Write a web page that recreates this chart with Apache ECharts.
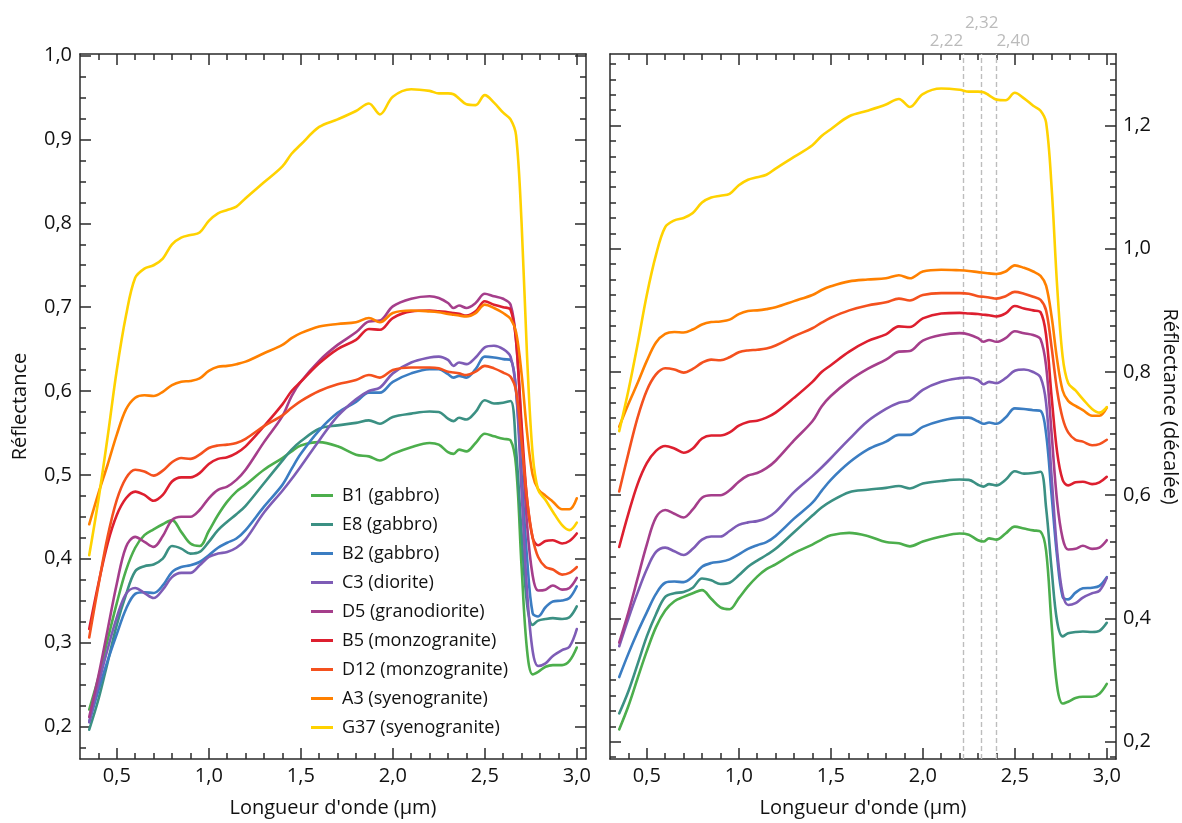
<!DOCTYPE html>
<html><head><meta charset="utf-8">
<script src="https://cdn.jsdelivr.net/npm/echarts@6/dist/echarts.min.js"></script>
<style>html,body{margin:0;padding:0;background:#fff}#c{width:1182px;height:823px}</style>
</head><body><div id="c"></div>
<script>
// ---------- data ----------
const wavelengths = [0.35,0.40,0.45,0.50,0.55,0.60,0.65,0.70,0.75,0.80,0.85,0.90,0.95,1.00,1.05,1.10,1.15,1.20,
  1.30,1.40,1.45,1.50,1.60,1.70,1.80,1.87,1.93,2.00,2.10,
  2.20,2.25,2.30,2.33,2.36,2.40,2.45,2.50,2.55,2.60,2.64,2.67,2.70,2.73,2.76,2.79,2.83,2.87,2.92,2.96,3.00];

const b1  = [0.220,0.258,0.303,0.347,0.386,0.413,0.428,0.435,0.441,0.446,0.432,0.418,0.415,0.433,0.452,0.468,0.480,0.488,
  0.506,0.520,0.528,0.535,0.539,0.534,0.524,0.522,0.517,0.525,0.533,
  0.538,0.536,0.527,0.525,0.530,0.528,0.538,0.549,0.546,0.543,0.541,0.51,0.39,0.29,0.262,0.265,0.271,0.273,0.273,0.278,0.294];
const e8  = [0.196,0.232,0.276,0.321,0.357,0.385,0.391,0.393,0.400,0.415,0.412,0.406,0.408,0.420,0.434,0.444,0.453,0.463,
  0.490,0.517,0.530,0.540,0.555,0.559,0.562,0.565,0.561,0.569,0.573,
  0.5755,0.575,0.567,0.564,0.568,0.566,0.575,0.589,0.585,0.586,0.588,0.53,0.43,0.345,0.321,0.326,0.328,0.329,0.328,0.330,0.343];
const b2  = [0.205,0.243,0.278,0.310,0.340,0.358,0.360,0.359,0.368,0.384,0.390,0.392,0.396,0.404,0.413,0.419,0.424,0.434,
  0.462,0.488,0.507,0.525,0.553,0.574,0.587,0.598,0.598,0.611,0.621,
  0.626,0.626,0.620,0.616,0.618,0.616,0.626,0.641,0.640,0.638,0.637,0.60,0.50,0.40,0.335,0.331,0.342,0.349,0.350,0.353,0.367];
const c3  = [0.205,0.250,0.292,0.330,0.358,0.365,0.359,0.353,0.363,0.378,0.383,0.383,0.392,0.402,0.406,0.408,0.413,0.423,
  0.455,0.481,0.495,0.510,0.541,0.570,0.590,0.600,0.604,0.621,0.634,
  0.640,0.641,0.637,0.630,0.634,0.632,0.640,0.652,0.654,0.650,0.641,0.60,0.48,0.36,0.290,0.272,0.275,0.284,0.291,0.295,0.316];
const d5  = [0.211,0.260,0.315,0.370,0.414,0.426,0.420,0.414,0.427,0.446,0.450,0.450,0.458,0.472,0.482,0.486,0.494,0.506,
  0.539,0.570,0.594,0.611,0.636,0.655,0.670,0.683,0.684,0.701,0.710,
  0.713,0.711,0.705,0.699,0.702,0.699,0.705,0.716,0.713,0.710,0.703,0.66,0.55,0.44,0.38,0.362,0.363,0.368,0.363,0.365,0.377];
const b5  = [0.316,0.370,0.418,0.452,0.472,0.480,0.476,0.469,0.476,0.492,0.497,0.497,0.502,0.513,0.519,0.521,0.526,0.534,
  0.558,0.584,0.600,0.611,0.633,0.650,0.661,0.674,0.673,0.687,0.695,
  0.696,0.695,0.694,0.693,0.692,0.690,0.695,0.707,0.703,0.700,0.697,0.66,0.56,0.47,0.425,0.416,0.421,0.422,0.418,0.421,0.430];
const d12 = [0.306,0.368,0.426,0.470,0.496,0.506,0.504,0.499,0.505,0.515,0.520,0.519,0.524,0.532,0.535,0.536,0.538,0.543,
  0.558,0.571,0.580,0.588,0.600,0.608,0.613,0.619,0.616,0.625,0.628,
  0.628,0.627,0.623,0.622,0.621,0.619,0.623,0.630,0.627,0.622,0.617,0.60,0.54,0.47,0.425,0.402,0.390,0.387,0.381,0.383,0.390];
const a3  = [0.441,0.478,0.512,0.548,0.578,0.592,0.595,0.594,0.599,0.607,0.611,0.612,0.615,0.624,0.629,0.630,0.632,0.635,
  0.645,0.655,0.663,0.669,0.677,0.680,0.682,0.687,0.682,0.693,0.696,
  0.695,0.694,0.692,0.691,0.690,0.689,0.693,0.703,0.699,0.693,0.686,0.67,0.62,0.55,0.50,0.483,0.475,0.468,0.459,0.459,0.472];
const g37 = [0.404,0.470,0.545,0.625,0.690,0.735,0.746,0.750,0.758,0.775,0.783,0.786,0.789,0.803,0.812,0.816,0.820,0.830,
  0.849,0.868,0.883,0.894,0.915,0.924,0.934,0.943,0.930,0.951,0.960,
  0.958,0.955,0.955,0.954,0.949,0.942,0.941,0.953,0.944,0.932,0.924,0.905,0.80,0.64,0.525,0.482,0.470,0.456,0.440,0.434,0.443];

const seriesNames = ['B1 (gabbro)','E8 (gabbro)','B2 (gabbro)','C3 (diorite)','D5 (granodiorite)',
  'B5 (monzogranite)','D12 (monzogranite)','A3 (syenogranite)','G37 (syenogranite)'];
const seriesValues = [b1, e8, b2, c3, d5, b5, d12, a3, g37];
// vertical shift applied to each spectrum in the right panel
const offsets = [0, 0.05, 0.10, 0.15, 0.15, 0.20, 0.30, 0.27, 0.30];
const colors = ['#4cae4c','#3b9083','#3b7dc2','#7e5cb6','#a53e8b','#dd1f2f','#f4511e','#ff8000','#ffd200'];

const xMajorTicks = [0.5, 1.0, 1.5, 2.0, 2.5, 3.0];
const yLeftMajorTicks = [0.2, 0.3, 0.4, 0.5, 0.6, 0.7, 0.8, 0.9, 1.0];
const yRightMajorTicks = [0.2, 0.4, 0.6, 0.8, 1.0, 1.2];
const featureLines = [2.22, 2.32, 2.40];

// ---------- styling / layout ----------
const FONT = '"Open Sans", "Noto Sans", sans-serif';
const AX = '#2a2a2a';
const XR = [0.3, 3.05];
const YL = [0.161, 1.002];
const YR = [0.172, 1.316];
function steps(a, b, s) { const o = []; for (let v = a; v <= b + 1e-9; v += s) o.push(Math.round(v * 1000) / 1000); return o; }
const xMinorTicks = steps(0.4, 3.0, 0.1);
const yLeftMinorTicks = steps(0.175, 1.0, 0.025);
const yRightMinorTicks = steps(0.175, 1.3, 0.025);
const fmt1 = v => v.toFixed(1).replace('.', ',');
const fmt2 = v => v.toFixed(2).replace('.', ',');

function ax(grid, pos, ext, ticks, len, showLine, extra) {
  return Object.assign({
    type: 'value', gridIndex: grid, position: pos, min: ext[0], max: ext[1],
    axisLine: { show: showLine, onZero: false, lineStyle: { color: AX, width: 1.5 } },
    axisTick: { show: ticks != null, inside: true, length: len, customValues: ticks || [], lineStyle: { color: AX, width: 1.5 } },
    axisLabel: { show: false },
    splitLine: { show: false }, axisPointer: { show: false }
  }, extra || {});
}
const labelStyle = { show: true, color: '#111', fontSize: 20, fontFamily: FONT, formatter: fmt1 };
const nameStyle = { color: '#111', fontSize: 20, fontFamily: FONT };

const xAxes = [];
for (let g = 0; g < 2; g++) {
  xAxes.push(ax(g, 'bottom', XR, xMajorTicks, 11, true, {
    axisLabel: Object.assign({}, labelStyle, { customValues: xMajorTicks, margin: 7 }),
    name: "Longueur d'onde (µm)", nameLocation: 'middle', nameGap: 39, nameTextStyle: nameStyle }));
  xAxes.push(ax(g, 'bottom', XR, xMinorTicks, 6, false));
  xAxes.push(ax(g, 'top', XR, xMajorTicks, 11, true));
  xAxes.push(ax(g, 'top', XR, xMinorTicks, 6, false));
}
const featAlign = ['right', 'center', 'left'];
const featMargin = [4, 22, 4];
featureLines.forEach((v, i) => {
  xAxes.push(ax(1, 'top', XR, null, 0, false, {
    axisLabel: { show: true, customValues: [v], formatter: fmt2, color: '#bbbbbb', fontSize: 17,
      fontFamily: FONT, margin: featMargin[i], align: featAlign[i] } }));
});

const yAxes = [
  ax(0, 'left', YL, yLeftMajorTicks, 11, true, {
    axisLabel: Object.assign({}, labelStyle, { customValues: yLeftMajorTicks, margin: 8 }),
    name: 'Réflectance', nameLocation: 'middle', nameGap: 50, nameRotate: 90, nameTextStyle: nameStyle }),
  ax(0, 'left', YL, yLeftMinorTicks, 6, false),
  ax(0, 'right', YL, yLeftMajorTicks, 11, true),
  ax(0, 'right', YL, yLeftMinorTicks, 6, false),
  ax(1, 'left', YR, yRightMajorTicks, 11, true),
  ax(1, 'left', YR, yRightMinorTicks, 6, false),
  ax(1, 'right', YR, yRightMajorTicks, 11, true, {
    axisLabel: Object.assign({}, labelStyle, { customValues: yRightMajorTicks, margin: 7 }),
    name: 'Réflectance (décalée)', nameLocation: 'middle', nameGap: 44, nameRotate: -90, nameTextStyle: nameStyle }),
  ax(1, 'right', YR, yRightMinorTicks, 6, false)
];

const series = [];
seriesNames.forEach((name, k) => {
  const base = {
    type: 'line', name, symbol: 'none', showSymbol: false, smooth: 0.35,
    lineStyle: { width: 2.6, color: colors[k], join: 'round', cap: 'round' }, itemStyle: { color: colors[k] },
    emphasis: { disabled: true }, animation: false, z: 3
  };
  series.push(Object.assign({}, base, { xAxisIndex: 0, yAxisIndex: 0,
    data: wavelengths.map((w, i) => [w, seriesValues[k][i]]) }));
  const right = Object.assign({}, base, { xAxisIndex: 4, yAxisIndex: 6,
    data: wavelengths.map((w, i) => [w, seriesValues[k][i] + offsets[k]]) });
  if (k === 0) {
    right.markLine = {
      silent: true, symbol: ['none', 'none'], animation: false, z: 1,
      label: { show: false },
      lineStyle: { color: '#bdbdbd', type: [5, 3], width: 1.4 },
      data: featureLines.map(v => ({ xAxis: v }))
    };
  }
  series.push(right);
});

const chart = echarts.init(document.getElementById('c'), null, { renderer: 'canvas' });
chart.setOption({
  backgroundColor: '#ffffff',
  animation: false,
  textStyle: { fontFamily: FONT },
  grid: [
    { left: 80, top: 54, width: 506, height: 705, containLabel: false },
    { left: 610, top: 54, width: 506, height: 705, containLabel: false }
  ],
  legend: {
    data: seriesNames, orient: 'vertical', left: 306, top: 480,
    icon: 'rect', itemWidth: 22, itemHeight: 3, itemGap: 8,
    textStyle: { color: '#111', fontSize: 18, fontFamily: FONT, lineHeight: 21, padding: [0, 0, 0, 4] },
    selectedMode: false
  },
  xAxis: xAxes,
  yAxis: yAxes,
  series
});
</script></body></html>
